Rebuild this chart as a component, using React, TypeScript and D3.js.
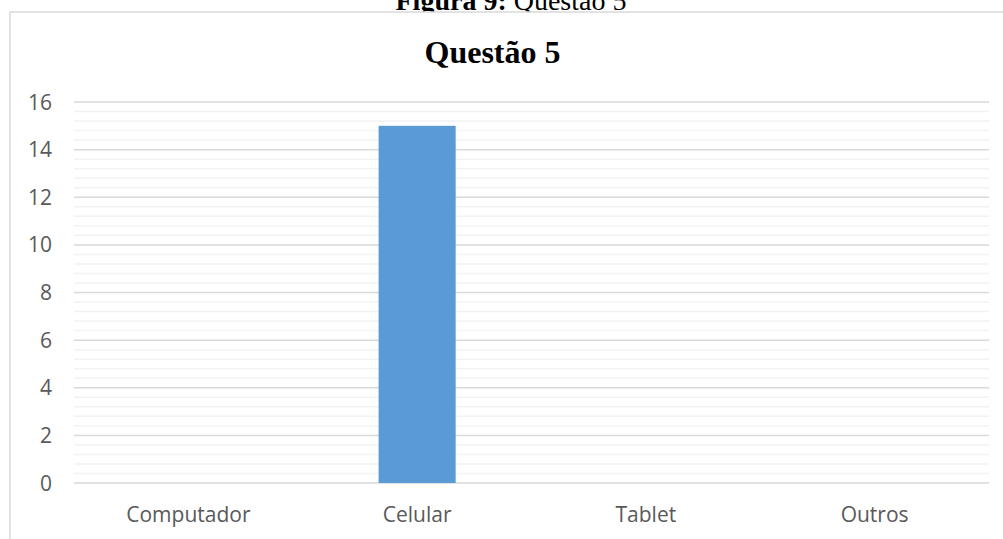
import React from "react";
import * as d3 from "d3";

const categories = ["Computador", "Celular", "Tablet", "Outros"];
const values = [0, 15, 0, 0];
const yTicks = [0, 2, 4, 6, 8, 10, 12, 14, 16];
const chartTitle = "Questão 5";
const captionBold = "Figura 9:";
const captionText = " Questão 5";

const W = 1003;
const H = 539;
const plot = { left: 74, right: 989, top: 102, bottom: 483 };

export default function App() {
  const x = d3
    .scaleBand<string>()
    .domain(categories)
    .range([plot.left, plot.right])
    .paddingInner(0.663)
    .paddingOuter(0.3315);
  const xc = d3.scaleBand<string>().domain(categories).range([plot.left, plot.right]);
  const y = d3.scaleLinear().domain([0, 16]).range([plot.bottom, plot.top]);
  const minorTicks = d3
    .range(0, 41)
    .map((i) => +(i * 0.4).toFixed(2))
    .filter((v) => Math.abs(v / 2 - Math.round(v / 2)) > 1e-6);

  return (
    <svg
      width={W}
      height={H}
      style={{ position: "absolute", left: 0, top: 0, background: "#fff" }}
    >
      <rect x={0} y={0} width={W} height={H} fill="#fff" />
      <text
        x={511}
        y={10}
        textAnchor="middle"
        fontFamily="'Liberation Serif', 'Times New Roman', serif"
        fontSize={28}
        fill="#000"
      >
        <tspan fontWeight="bold">{captionBold}</tspan>
        <tspan>{captionText}</tspan>
      </text>
      <rect x={10} y={12} width={W + 10} height={H + 10} fill="#fff" stroke="#d9d9d9" strokeWidth={1.5} />
      <text
        x={492.5}
        y={63}
        textAnchor="middle"
        fontFamily="'Liberation Serif', 'Times New Roman', serif"
        fontWeight="bold"
        fontSize={32}
        fill="#000"
      >
        {chartTitle}
      </text>
      {minorTicks.map((v) => (
        <line key={"m" + v} x1={plot.left} x2={plot.right} y1={y(v)} y2={y(v)} stroke="#f2f2f2" strokeWidth={1.5} />
      ))}
      {yTicks.map((v) => (
        <line key={"g" + v} x1={plot.left} x2={plot.right} y1={y(v)} y2={y(v)} stroke="#d9d9d9" strokeWidth={1.5} />
      ))}
      {yTicks.map((v) => (
        <text
          key={"t" + v}
          x={52}
          y={y(v)}
          dy="0.36em"
          textAnchor="end"
          fontFamily="'Open Sans', sans-serif"
          fontSize={21}
          fill="#595959"
        >
          {v}
        </text>
      ))}
      {categories.map((c, i) => (
        <rect
          key={"b" + c}
          x={x(c)}
          y={y(values[i])}
          width={x.bandwidth()}
          height={y(0) - y(values[i])}
          fill="#5b9bd5"
        />
      ))}
      {categories.map((c) => (
        <text
          key={"c" + c}
          x={(xc(c) as number) + xc.bandwidth() / 2}
          y={522}
          textAnchor="middle"
          fontFamily="'Open Sans', sans-serif"
          fontSize={21}
          fill="#595959"
        >
          {c}
        </text>
      ))}
    </svg>
  );
}
